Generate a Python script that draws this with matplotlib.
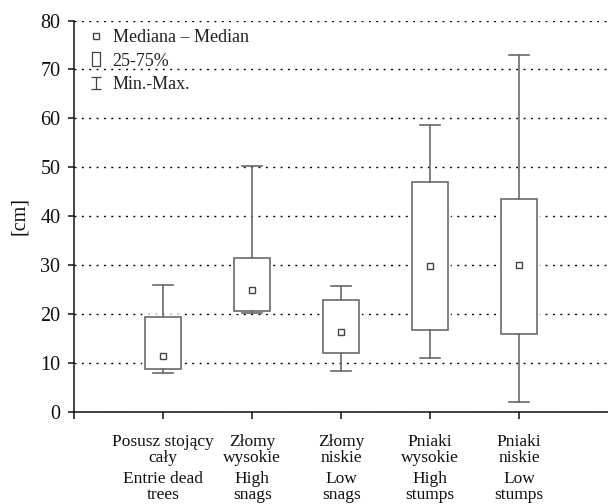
import matplotlib
matplotlib.use("Agg")
import matplotlib.pyplot as plt
import matplotlib.patheffects as pe
from matplotlib.lines import Line2D
from matplotlib.path import Path

plt.rcParams['font.family'] = ['Liberation Serif', 'DejaVu Serif']

# ---- data ----
labels_pl = ["Posusz stojący\ncały", "Złomy\nwysokie", "Złomy\nniskie",
             "Pniaki\nwysokie", "Pniaki\nniskie"]
labels_en = ["Entrie dead\ntrees", "High\nsnags", "Low\nsnags",
             "High\nstumps", "Low\nstumps"]
mins = [7.9, 20.1, 8.3, 10.9, 2.0]
q1 = [8.8, 20.6, 12.1, 16.8, 15.9]
medians = [11.3, 24.9, 16.2, 29.7, 30.1]
q3 = [19.4, 31.5, 22.9, 47.0, 43.5]
maxs = [25.9, 50.2, 25.8, 58.6, 73.0]
yticks = [0, 10, 20, 30, 40, 50, 60, 70, 80]
legend_labels = ["Mediana – Median", "25-75%", "Min.-Max."]

gray = '#6a6a6a'
positions = list(range(1, len(labels_pl) + 1))

fig = plt.figure(figsize=(6.08, 5.04), dpi=100)
ax = fig.add_axes([0.1222, 0.1831, 0.8778, 0.7762])

stats = [dict(med=m, q1=a, q3=b, whislo=lo, whishi=hi, fliers=[])
         for m, a, b, lo, hi in zip(medians, q1, q3, mins, maxs)]
ax.bxp(stats, positions=positions, widths=0.41, capwidths=0.22,
       patch_artist=True, showfliers=False,
       boxprops=dict(facecolor='white', edgecolor=gray, linewidth=1.2, zorder=2,
                     path_effects=[pe.Stroke(linewidth=4, foreground='white'), pe.Normal()]),
       whiskerprops=dict(color=gray, linewidth=1.2, zorder=3),
       capprops=dict(color=gray, linewidth=1.2, zorder=3),
       medianprops=dict(linestyle='none'))
ax.plot(positions, medians, linestyle='none', marker='s', markersize=4.8,
        markerfacecolor='white', markeredgecolor='#444444', markeredgewidth=1.0, zorder=4)

ax.set_xlim(0, 6)
ax.set_ylim(0, 80)
ax.set_yticks(yticks)
ax.set_yticklabels([str(t) for t in yticks])
ax.yaxis.grid(True, color='black', linewidth=1.0, linestyle=(0, (1.4, 3.9)), zorder=0.5)
ax.set_axisbelow(True)

ax.set_xticks([0] + positions)
ax.set_xticklabels([""] + labels_pl)
ax.set_xticks(positions, minor=True)
ax.set_xticklabels(labels_en, minor=True)
ax.xaxis.remove_overlapping_locs = False

for s in ['top', 'right']:
    ax.spines[s].set_visible(False)
for s in ['left', 'bottom']:
    ax.spines[s].set_linewidth(1.1)
    ax.spines[s].set_color('#111111')

ax.tick_params(axis='y', direction='out', length=4.5, width=1.1, pad=5.5,
               labelsize=14.5, colors='#111111')
ax.tick_params(axis='x', which='major', direction='out', length=5, width=1.1, pad=11,
               labelsize=12.5, colors='#111111')
ax.tick_params(axis='x', which='minor', length=0, pad=42.5, labelsize=12.5, colors='#111111')
for t in ax.xaxis.get_majorticklabels() + ax.xaxis.get_minorticklabels():
    t.set_linespacing(0.98)

ax.set_ylabel("[cm]", fontsize=14.5, color='#111111')
ax.yaxis.set_label_coords(-0.085, 0.5)

rect_path = Path([(-0.32, -0.5), (0.32, -0.5), (0.32, 0.5), (-0.32, 0.5), (-0.32, -0.5)],
                 [Path.MOVETO, Path.LINETO, Path.LINETO, Path.LINETO, Path.CLOSEPOLY])
ibeam_path = Path([(-0.45, -0.5), (0.45, -0.5), (0, -0.5), (0, 0.5), (-0.45, 0.5), (0.45, 0.5)],
                  [Path.MOVETO, Path.LINETO, Path.MOVETO, Path.LINETO, Path.MOVETO, Path.LINETO])
handles = [
    Line2D([], [], linestyle='none', marker='s', markersize=4.5, markerfacecolor='white',
           markeredgecolor='#444444', markeredgewidth=1.0),
    Line2D([], [], linestyle='none', marker=rect_path, markersize=9.5, markerfacecolor='white',
           markeredgecolor='#444444', markeredgewidth=0.9),
    Line2D([], [], linestyle='none', marker=ibeam_path, markersize=8.2, fillstyle='none',
           markeredgecolor='#444444', markeredgewidth=0.9),
]
leg = ax.legend(handles, legend_labels, loc='upper left', bbox_to_anchor=(0.026, 0.978),
                frameon=False, fontsize=13, handlelength=0.9, handletextpad=0.45,
                labelspacing=0.36, borderpad=0, borderaxespad=0)
for t in leg.get_texts():
    t.set_color('#222222')

fig.savefig("out.png", dpi=100)
